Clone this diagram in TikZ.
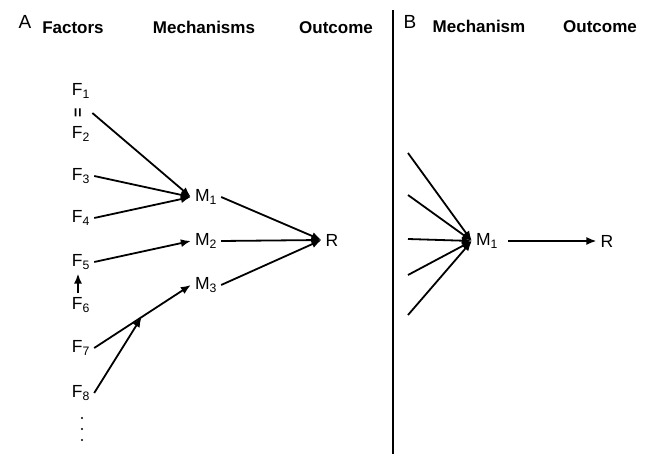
\documentclass[tikz,border=0pt]{standalone}
\usepackage{fontspec}
\setmainfont{Liberation Sans}
\usetikzlibrary{arrows.meta}
\tikzstyle{heading}=[
        font=\bfseries\fontsize{17}{17}\selectfont,
        anchor=base
]
\tikzstyle{panel}=[
        font=\fontsize{19}{19}\selectfont,
        anchor=base
]
\tikzstyle{var}=[
        font=\fontsize{17.5}{17.5}\selectfont,
        inner sep=4pt
]
\tikzstyle{link}=[
        line width=1.8pt,
        -{Latex[length=10pt,width=8pt]}
]

\begin{document}
\begin{tikzpicture}[x=1pt,y=-1pt]
                        \useasboundingbox (0,0) rectangle (654,454);

                        % panel A
                        \node[panel] (A) at (25,29) {A};
                        \node[heading] (hF) at (73,34) {Factors};
                        \node[heading] (hM) at (204,34) {Mechanisms};
                        \node[heading] (hO) at (336,34) {Outcome};

                        \node[var] (F1) at (81,91) {F\textsubscript{1}};
                        \node[var,rotate=90,font=\bfseries\fontsize{16}{16}\selectfont,inner sep=1pt] (eq) at (79,113) {=};
                        \node[var] (F2) at (81,134) {F\textsubscript{2}};
                        \node[var] (F3) at (81,176) {F\textsubscript{3}};
                        \node[var] (F4) at (81,218) {F\textsubscript{4}};
                        \node[var] (F5) at (81,262) {F\textsubscript{5}};
                        \node[var] (F6) at (81,305) {F\textsubscript{6}};
                        \node[var] (F7) at (81,348) {F\textsubscript{7}};
                        \node[var] (F8) at (81,393) {F\textsubscript{8}};
                        % further factors
                        \foreach \y in {418,429,440} {
                            \fill (82,\y) circle (1.2pt);
                        }

                        \node[var] (M1) at (206,197) {M\textsubscript{1}};
                        \node[var] (M2) at (206,241) {M\textsubscript{2}};
                        \node[var] (M3) at (206,285) {M\textsubscript{3}};
                        \node[var] (R) at (332,240) {R};

                        \draw[link] (eq.south) ++(8pt,0) -- (M1.west);
                        \draw[link] (F3.east) -- (M1.west);
                        \draw[link] (F4.east) -- (M1.west);
                        \draw[link] (F5.east) -- (M2.west);
                        \draw[link] ([xshift=-3pt]F6.north) -- ([xshift=-3pt]F5.south);
                        \draw[link] (F7.east) -- (M3.west);
                        \path (F7.east) -- (M3.west) coordinate[pos=0.49] (join);
                        \draw[link] (F8.east) -- (join);

                        \draw[link] (M1.east) -- (R.west);
                        \draw[link] (M2.east) -- (R.west);
                        \draw[link] (M3.east) -- (R.west);

                        % divider
                        \coordinate (top) at (393,10);
                        \coordinate (bot) at (393,454);
                        \draw[line width=1.8pt] (top) -- (bot);

                        % panel B
                        \node[panel] (B) at (410,29) {B};
                        \node[heading] (hMB) at (479,33) {Mechanism};
                        \node[heading] (hOB) at (600,33) {Outcome};

                        \node[var] (M1B) at (487,241) {M\textsubscript{1}};
                        \node[var] (RB) at (607,241) {R};

                        \foreach \y [count=\i] in {153,195,239,275,315} {
                            \coordinate (b\i) at (408,\y);
                            \draw[link] (b\i) -- (M1B.west);
                        }

                        \draw[link] ([xshift=6pt]M1B.east) -- (RB.west);

                    \end{tikzpicture}
\end{document}
